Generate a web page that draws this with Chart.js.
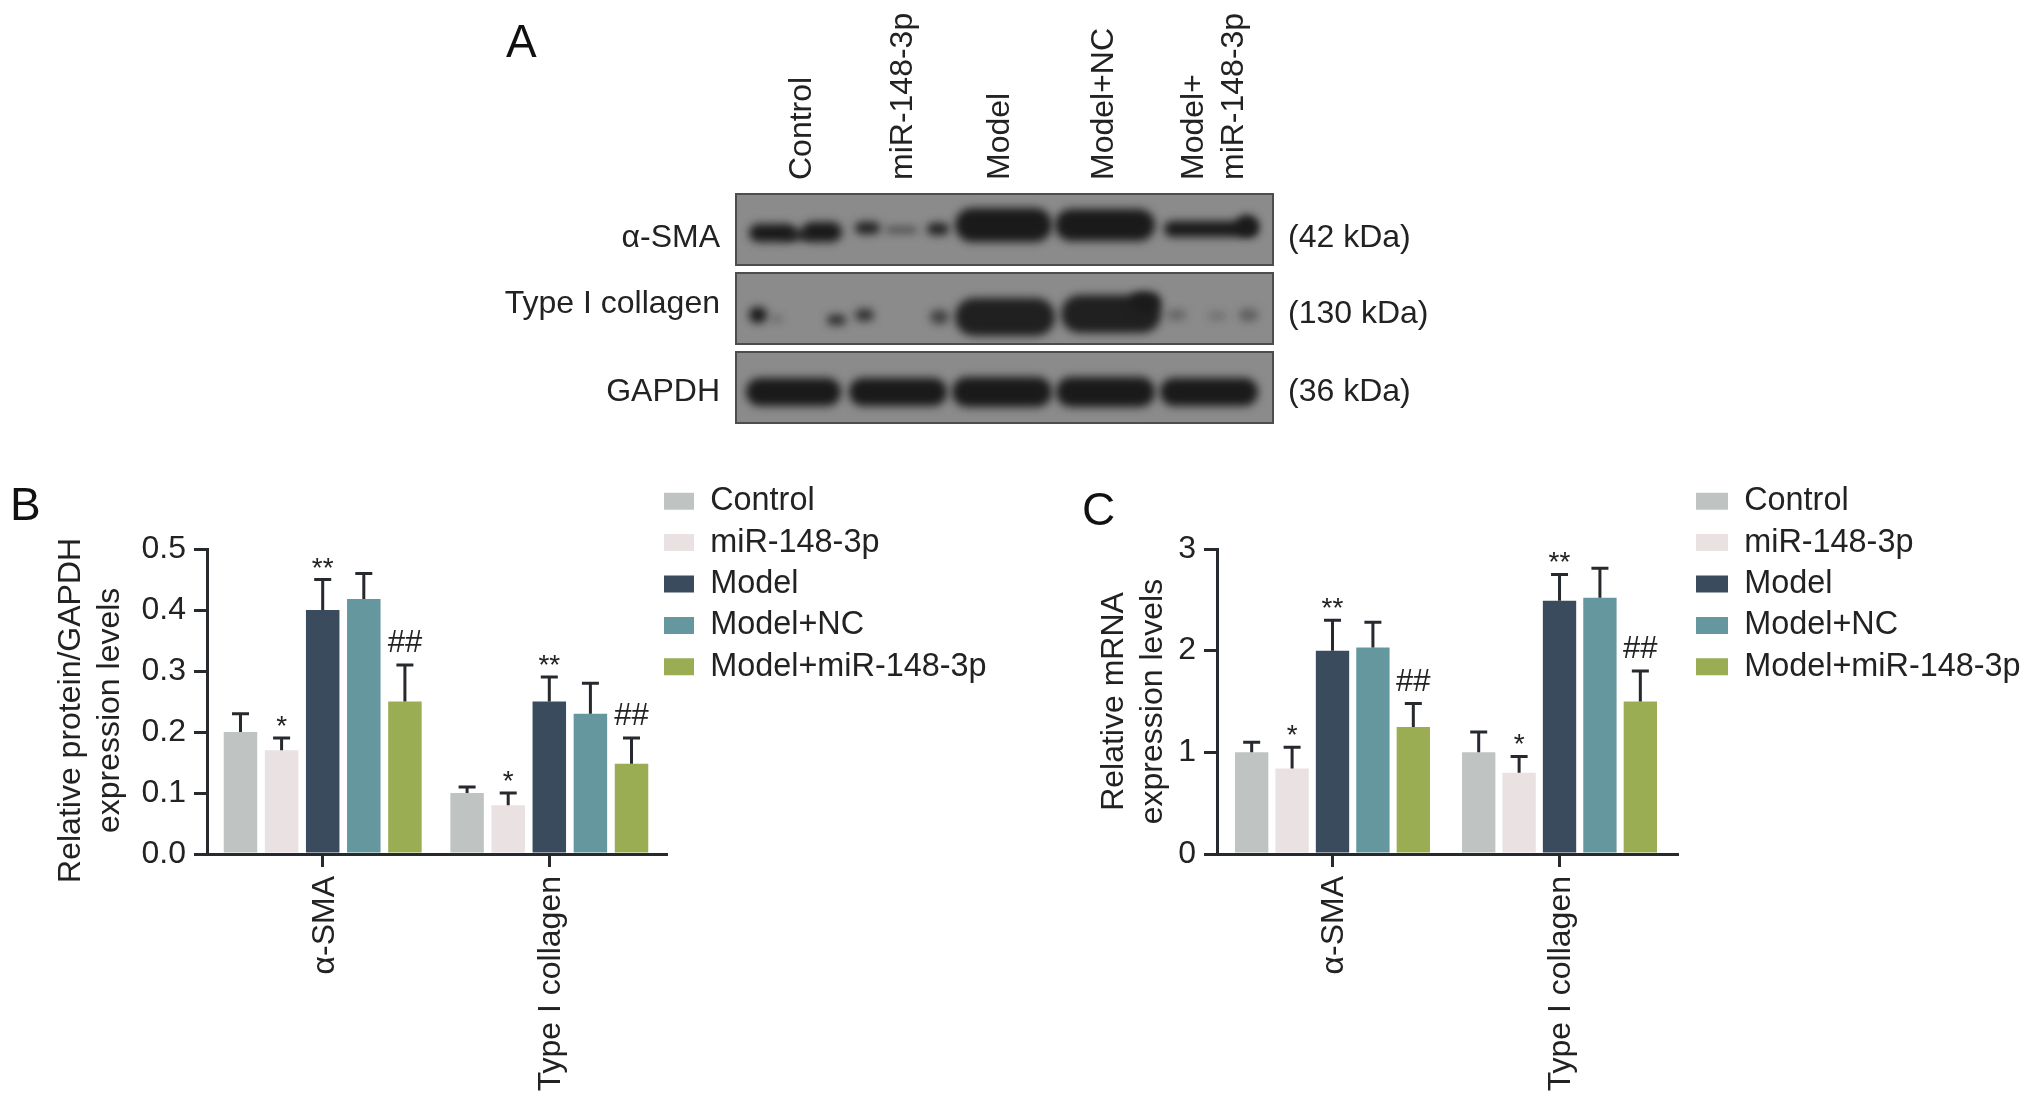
<!DOCTYPE html>
<html lang="en">
<head>
  <meta charset="UTF-8">
  <title>miR-148-3p expression panels</title>
  <script src="https://cdn.jsdelivr.net/npm/chart.js"></script>
  <style>
    html, body { margin: 0; padding: 0; background: #fff; }
    body { position: relative; width: 2032px; height: 1105px; overflow: hidden;
           font-family: "Liberation Sans", Arial, sans-serif; color: #222; }
    canvas { position: absolute; display: block; }
    .t { position: absolute; font-size: 32px; line-height: 32px; white-space: nowrap; }
    .letter { font-size: 46px; line-height: 46px; color: #111; }
    .up { transform-origin: 0 0; transform: rotate(-90deg); }
    .end { text-align: right; }
  </style>
</head>
<body>
  <canvas id="blot" width="2032" height="470" style="left:0;top:0"></canvas>
  <canvas id="chartB" width="1040" height="635" style="left:0;top:470px"></canvas>
  <canvas id="chartC" width="972" height="635" style="left:1060px;top:470px"></canvas>

  <div class="t letter" style="left:506px;top:18px">A</div>
  <div class="t letter" style="left:10px;top:481px">B</div>
  <div class="t letter" style="left:1082px;top:486px">C</div>

  <div class="t up" style="left:784px;top:180px">Control</div>
  <div class="t up" style="left:885px;top:180px">miR-148-3p</div>
  <div class="t up" style="left:982px;top:180px">Model</div>
  <div class="t up" style="left:1086px;top:180px">Model+NC</div>
  <div class="t up" style="left:1176px;top:180px">Model+</div>
  <div class="t up" style="left:1216px;top:180px">miR-148-3p</div>

  <div class="t end" style="left:420px;width:300px;top:220px">&alpha;-SMA</div>
  <div class="t end" style="left:420px;width:300px;top:286px">Type I collagen</div>
  <div class="t end" style="left:420px;width:300px;top:374px">GAPDH</div>
  <div class="t" style="left:1288px;top:220px">(42 kDa)</div>
  <div class="t" style="left:1288px;top:296px">(130 kDa)</div>
  <div class="t" style="left:1288px;top:374px">(36 kDa)</div>

  <script>
    const categories = ['\u03b1-SMA', 'Type I collagen'];
    const seriesNames = ['Control', 'miR-148-3p', 'Model', 'Model+NC', 'Model+miR-148-3p'];
    const seriesColors = ['#bfc4c2', '#eae2e2', '#3a4b5d', '#65989e', '#9aad53'];

    // one row per series, one column per category
    const proteinValues = [[0.2, 0.1], [0.17, 0.08], [0.4, 0.25], [0.418, 0.23], [0.25, 0.148]];
    const proteinTops = [[0.23, 0.11], [0.19, 0.1], [0.45, 0.29], [0.46, 0.28], [0.31, 0.19]];
    const mrnaValues = [[1, 1], [0.84, 0.8], [2, 2.49], [2.03, 2.52], [1.25, 1.5]];
    const mrnaTops = [[1.1, 1.2], [1.05, 0.96], [2.3, 2.75], [2.28, 2.81], [1.48, 1.8]];
    const marks = [['', ''], ['*', '*'], ['**', '**'], ['', ''], ['##', '##']];

    const proteinTicks = [0, 0.1, 0.2, 0.3, 0.4, 0.5];
    const mrnaTicks = [0, 1, 2, 3];

    // blot strips: background tops, then bands as strip, x from, x to, y centre, half height, alpha
    const stripTops = [0, 79, 158];
    const stripHeight = 71;
    const blotBands = [
      [0, 13, 60, 39, 9, 1], [0, 66, 106, 38, 10, 1], [0, 50, 75, 41, 5, 0.9],
      [0, 119, 144, 34, 6, 0.95], [0, 150, 181, 36, 3, 0.6], [0, 191, 213, 35, 6, 0.95],
      [0, 219, 316, 31, 17, 1], [0, 319, 419, 31, 16, 1],
      [0, 428, 522, 35, 8, 1], [0, 500, 522, 31, 10, 1],
      [1, 13, 31, 42, 8, 1], [1, 36, 46, 46, 3, 0.4], [1, 91, 110, 47, 5, 0.85],
      [1, 119, 138, 42, 6, 0.8], [1, 194, 213, 44, 7, 0.65],
      [1, 219, 319, 44, 19, 0.95], [1, 325, 425, 41, 19, 0.95], [1, 394, 425, 29, 10, 0.95],
      [1, 431, 450, 42, 5, 0.35], [1, 472, 490, 43, 4, 0.25], [1, 503, 522, 42, 6, 0.4],
      [2, 10, 105, 40, 14, 1], [2, 113, 211, 40, 14, 1], [2, 216, 316, 40, 15, 1],
      [2, 320, 419, 40, 15, 1], [2, 424, 522, 40, 14, 1]
    ];

    const inkColor = '#26292d';

    Chart.defaults.font.family = '"Liberation Sans", Arial, sans-serif';
    Chart.defaults.color = '#222';
    Chart.defaults.animation = false;

    // error bars and significance marks above the bars
    const errorBars = {
      id: 'errorBars',
      afterDatasetsDraw(chart, args, opts) {
        const ctx = chart.ctx;
        const y = chart.scales.y;
        ctx.save();
        ctx.strokeStyle = inkColor;
        ctx.fillStyle = '#222';
        ctx.lineWidth = 3;
        ctx.textAlign = 'center';
        ctx.textBaseline = 'alphabetic';
        chart.data.datasets.forEach((ds, s) => {
          chart.getDatasetMeta(s).data.forEach((bar, c) => {
            const top = y.getPixelForValue(opts.tops[s][c]);
            ctx.beginPath();
            ctx.moveTo(bar.x, bar.y);
            ctx.lineTo(bar.x, top);
            ctx.moveTo(bar.x - 8.5, top);
            ctx.lineTo(bar.x + 8.5, top);
            ctx.stroke();
            const mark = marks[s][c];
            if (mark) {
              ctx.font = (mark === '##' ? 31 : 28) + 'px "Liberation Sans"';
              ctx.fillText(mark, bar.x, top - (mark === '##' ? 13 : 3));
            }
          });
        });
        ctx.restore();
      }
    };

    // the legend sits outside the plot, up and to the right
    const moveLegend = {
      id: 'moveLegend',
      beforeDraw(chart, args, opts) {
        const l = chart.legend;
        const w = l.width, h = l.height;
        l.left = opts.left; l.top = opts.top;
        l.right = l.left + w; l.bottom = l.top + h + 40;
      }
    };

    function makeBars(canvasId, cfg) {
      return new Chart(document.getElementById(canvasId), {
        type: 'bar',
        data: {
          datasets: seriesNames.map((name, s) => ({
            label: name,
            backgroundColor: seriesColors[s],
            data: categories.map((c, i) => ({ x: i, y: cfg.values[s][i] })),
            barPercentage: cfg.barPct,
            categoryPercentage: cfg.catPct
          }))
        },
        options: {
          responsive: false,
          devicePixelRatio: 1,
          layout: { padding: { left: cfg.padLeft, top: 79, right: cfg.padRight, bottom: 0 } },
          plugins: {
            tooltip: { enabled: false },
            errorBars: { tops: cfg.tops },
            moveLegend: { left: cfg.legendLeft, top: 6 },
            legend: {
              position: 'chartArea',
              align: 'start',
              labels: {
                boxWidth: cfg.legendBox, boxHeight: 17, padding: 9, color: '#222',
                font: { size: 32.4, lineHeight: 1 }
              }
            }
          },
          scales: {
            x: {
              type: 'linear',
              offset: false,
              min: cfg.xMin,
              max: cfg.xMax,
              afterBuildTicks: (s) => { s.ticks = categories.map((c, i) => ({ value: i })); },
              afterFit: (s) => { s.height = 251; },
              border: { color: inkColor, width: 3 },
              grid: { offset: false, drawOnChartArea: false, color: inkColor, lineWidth: 3, tickLength: 13 },
              ticks: {
                autoSkip: false, minRotation: 90, maxRotation: 90, padding: 9, labelOffset: 2,
                color: '#222', font: { size: 32 },
                callback: (v) => categories[v]
              }
            },
            y: {
              min: 0,
              max: cfg.yTicks[cfg.yTicks.length - 1],
              afterBuildTicks: (s) => { s.ticks = cfg.yTicks.map((v) => ({ value: v })); },
              afterFit: (s) => { s.width = cfg.yWidth; },
              border: { color: inkColor, width: 3 },
              grid: { drawOnChartArea: false, color: inkColor, lineWidth: 3, tickLength: 13 },
              ticks: {
                padding: 8, color: '#222', font: { size: 32 },
                callback: (v) => v.toFixed(cfg.yDigits)
              },
              title: {
                display: true, text: cfg.yTitle, color: '#222',
                font: { size: 32, lineHeight: 1.22 }, padding: 0
              }
            }
          }
        },
        plugins: [errorBars, moveLegend]
      });
    }

    makeBars('chartB', {
      values: proteinValues, tops: proteinTops, yTicks: proteinTicks, yDigits: 1,
      yTitle: ['Relative protein/GAPDH  ', 'expression levels  '],
      barPct: 0.815, catPct: 0.907,
      padLeft: 52, yWidth: 155, padRight: 374,
      xMin: -0.5106, xMax: 1.515, legendLeft: 655, legendBox: 30
    });

    makeBars('chartC', {
      values: mrnaValues, tops: mrnaTops, yTicks: mrnaTicks, yDigits: 0,
      yTitle: ['Relative mRNA', 'expression levels'],
      barPct: 0.825, catPct: 0.89,
      padLeft: 35, yWidth: 122, padRight: 355,
      xMin: -0.5088, xMax: 1.5175, legendLeft: 627, legendBox: 32
    });

    // western blot strips, drawn through a hidden pair of scales
    const blotPainter = {
      id: 'blotPainter',
      afterDraw(chart) {
        const { ctx, scales: { x, y } } = chart;
        stripTops.forEach((top, i) => {
          const left = x.getPixelForValue(0), right = x.getPixelForValue(537);
          const t = y.getPixelForValue(top), b = y.getPixelForValue(top + stripHeight);
          ctx.save();
          ctx.beginPath();
          ctx.rect(left, t, right - left, b - t);
          ctx.clip();
          ctx.fillStyle = '#8b8b8b';
          ctx.fillRect(left, t, right - left, b - t);
          ctx.filter = 'blur(4px)';
          blotBands.filter((band) => band[0] === i).forEach((band) => {
            const x0 = x.getPixelForValue(band[1]), x1 = x.getPixelForValue(band[2]);
            const yc = y.getPixelForValue(top + band[3]);
            const hh = y.getPixelForValue(top + band[3] + band[4]) - yc;
            ctx.fillStyle = `rgba(26,26,26,${band[5]})`;
            ctx.beginPath();
            ctx.roundRect(x0, yc - hh, x1 - x0, hh * 2, hh);
            ctx.fill();
          });
          ctx.restore();
          ctx.save();
          ctx.strokeStyle = '#4d4d4d';
          ctx.lineWidth = 2;
          ctx.strokeRect(left, t, right - left, b - t);
          ctx.restore();
        });
      }
    };

    new Chart(document.getElementById('blot'), {
      type: 'scatter',
      data: { datasets: [{ data: [] }] },
      options: {
        responsive: false,
        devicePixelRatio: 1,
        layout: { padding: { left: 736, top: 194, right: 759, bottom: 46 } },
        plugins: { legend: { display: false }, tooltip: { enabled: false } },
        scales: {
          x: { display: false, min: 0, max: 537 },
          y: { display: false, min: 0, max: 230, reverse: true }
        }
      },
      plugins: [blotPainter]
    });
  </script>
</body>
</html>
